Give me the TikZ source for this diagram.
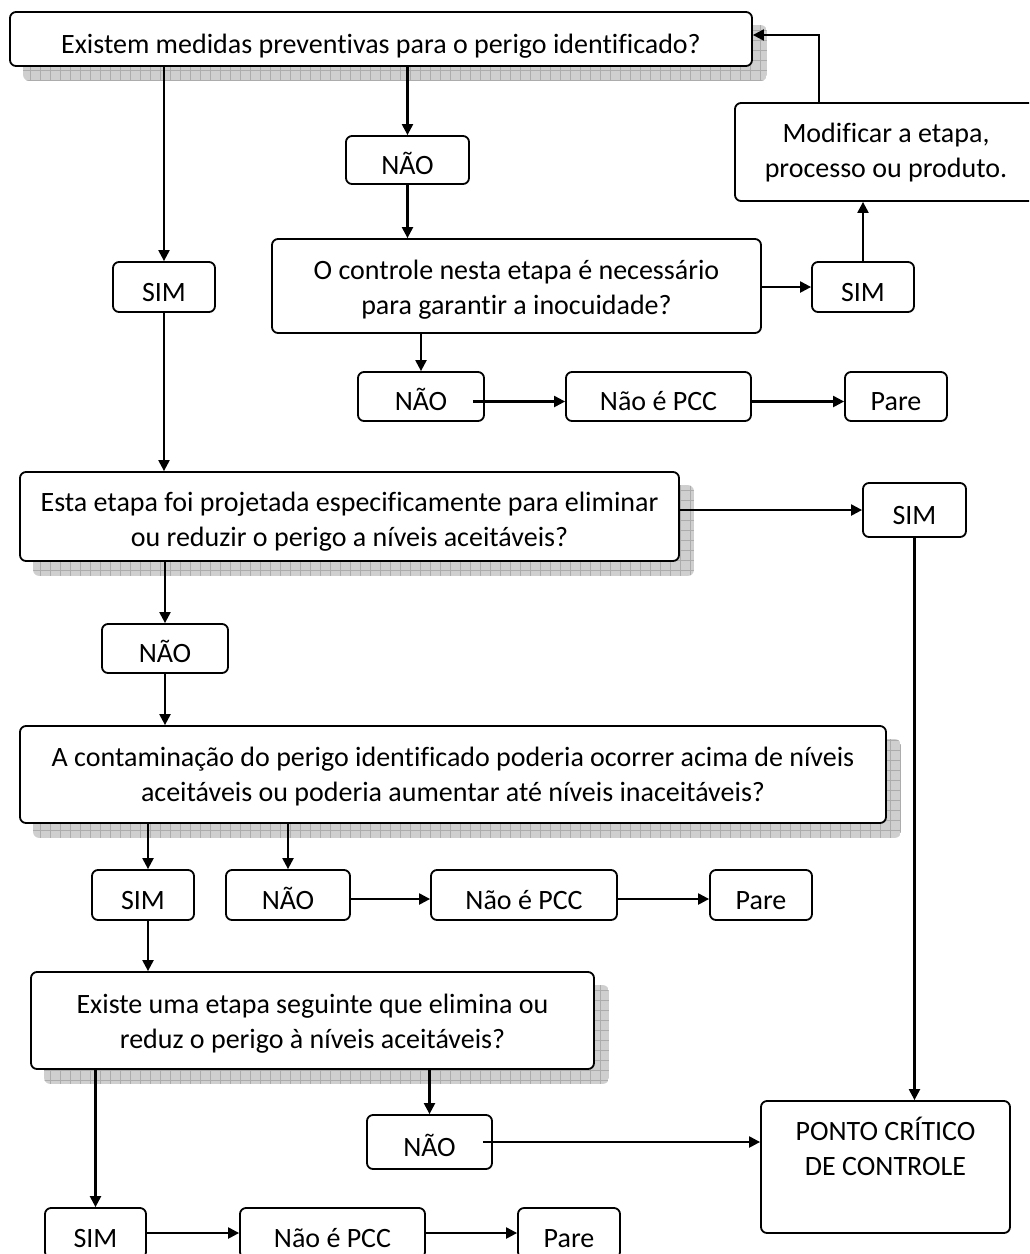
\documentclass[tikz,border=0pt]{standalone}
\usepackage{fontspec}
\setmainfont{Carlito}[Ligatures=NoCommon]
\usetikzlibrary{arrows.meta,backgrounds,positioning}
\tikzset{
  box/.style={draw=black, line width=1.8pt, rounded corners=6pt, fill=white,
    align=center, inner sep=0pt, font=\fontsize{28}{34.5}\selectfont},
  one/.style={text height=28pt, text depth=0pt},
  conn/.style={line width=2.2pt, -{Triangle[length=11pt,width=11pt]}},
  shadowfill/.style={fill=gray!38},
  shadowgrid/.style={draw=gray!65, line width=0.5pt}
}
\newcommand\twolines[3]{\raisebox{#1}[0pt][0pt]{\begin{tabular}{@{}c@{}}#2\\#3\end{tabular}}}
\newcommand\dropshadow[1]{%
  \begin{scope}[on background layer]
    \begin{scope}
      \clip[rounded corners=6pt] ([shift={(14pt,-14pt)}]#1.north west) rectangle ([shift={(14pt,-14pt)}]#1.south east);
      \fill[shadowfill] ([shift={(14pt,-14pt)}]#1.north west) rectangle ([shift={(14pt,-14pt)}]#1.south east);
      \draw[shadowgrid, step=10pt] ([shift={(14pt,-14pt)}]#1.north west) grid ([shift={(14pt,-14pt)}]#1.south east);
    \end{scope}
  \end{scope}}
\begin{document}
\begin{tikzpicture}[x=1pt, y=-1pt]
\useasboundingbox (0,0) rectangle (1029,1254);
\clip (0,0) rectangle (1029,1254);

% nodes
\node[box, one, minimum width=742pt, minimum height=54pt] (b1) at (381,39) {Existem medidas preventivas para o perigo identificado?};
\node[box, one, minimum width=123pt, minimum height=48pt] (nao1) at (407.5,160) {NÃO};
\node[box, minimum width=302pt, minimum height=98pt] (mod) at (886,152) {\twolines{-7.5pt}{Modificar a etapa,}{processo ou produto.}};
\node[box, one, minimum width=102pt, minimum height=50pt] (sim1) at (164,287) {SIM};
\node[box, minimum width=489pt, minimum height=94pt] (ctrl) at (516.5,286) {\twolines{-10.5pt}{O controle nesta etapa é necessário}{para garantir a inocuidade?}};
\node[box, one, minimum width=102pt, minimum height=50pt] (sim2) at (863,287) {SIM};
\node[box, one, minimum width=126pt, minimum height=49pt] (nao2) at (421,396.5) {NÃO};
\node[box, one, minimum width=185pt, minimum height=49pt] (npcc1) at (658.5,396.5) {Não é PCC};
\node[box, one, minimum width=102pt, minimum height=49pt] (pare1) at (896,396.5) {Pare};
\node[box, minimum width=659pt, minimum height=89pt] (esta) at (349.5,516.5) {\twolines{-12pt}{Esta etapa foi projetada especificamente para eliminar}{ou reduzir o perigo a níveis aceitáveis?}};
\node[box, one, minimum width=103pt, minimum height=54pt] (sim3) at (914.5,510) {SIM};
\node[box, one, minimum width=126pt, minimum height=49pt] (nao3) at (165,648.5) {NÃO};
\node[box, minimum width=866pt, minimum height=97pt] (cont) at (453,774.5) {\twolines{-9pt}{A contaminação do perigo identificado poderia ocorrer acima de níveis}{aceitáveis ou poderia aumentar até níveis inaceitáveis?}};
\node[box, one, minimum width=102pt, minimum height=50pt] (sim4) at (143,895) {SIM};
\node[box, one, minimum width=124pt, minimum height=50pt] (nao4) at (288,895) {NÃO};
\node[box, one, minimum width=186pt, minimum height=50pt] (npcc2) at (524,895) {Não é PCC};
\node[box, one, minimum width=102pt, minimum height=50pt] (pare2) at (761,895) {Pare};
\node[box, minimum width=563pt, minimum height=97pt] (existe) at (312.5,1020.5) {\twolines{-10pt}{Existe uma etapa seguinte que elimina ou}{reduz o perigo à níveis aceitáveis?}};
\node[box, one, minimum width=125pt, minimum height=54pt] (nao5) at (429.5,1142) {NÃO};
\node[box, minimum width=249pt, minimum height=132pt] (ponto) at (885.5,1167) {\twolines{9.5pt}{PONTO CRÍTICO}{DE CONTROLE}};
\node[box, one, minimum width=101pt, minimum height=50pt] (sim5) at (95.5,1233) {SIM};
\node[box, one, minimum width=185pt, minimum height=50pt] (npcc3) at (332.5,1233) {Não é PCC};
\node[box, one, minimum width=102pt, minimum height=50pt] (pare3) at (569,1233) {Pare};

% shadows
\dropshadow{b1}
\dropshadow{esta}
\dropshadow{cont}
\dropshadow{existe}

% connectors
\coordinate (fbx) at (819,0);
\draw[conn] (sim1.north |- b1.south) -- (sim1.north);
\draw[conn] (nao1.north |- b1.south) -- (nao1.north);
\draw[conn] (nao1.south) -- (nao1.south |- ctrl.north);
\draw[conn] (sim2.west -| ctrl.east) -- (sim2.west);
\draw[conn] (sim2.north) -- (sim2.north |- mod.south);
\draw[conn] (mod.north -| fbx) |- ([yshift=4pt]b1.east);
\draw[conn] (nao2.north |- ctrl.south) -- (nao2.north);
\draw[conn] ([shift={(-12pt,-5pt)}]nao2.east) -- ([yshift=-5pt]npcc1.west);
\draw[conn] ([yshift=-5pt]npcc1.east) -- ([yshift=-5pt]pare1.west);
\draw[conn] (sim1.south) -- (sim1.south |- esta.north);
\draw[conn] (sim3.west -| esta.east) -- (sim3.west);
\draw[conn] (nao3.north |- esta.south) -- (nao3.north);
\draw[conn] (nao3.south) -- (nao3.south |- cont.north);
\draw[conn] (sim3.south) -- (sim3.south |- ponto.north);
\draw[conn] ([xshift=5pt]sim4.north |- cont.south) -- ([xshift=5pt]sim4.north);
\draw[conn] (nao4.north |- cont.south) -- (nao4.north);
\draw[conn] ([yshift=-4pt]nao4.east) -- ([yshift=-4pt]npcc2.west);
\draw[conn] ([yshift=-4pt]npcc2.east) -- ([yshift=-4pt]pare2.west);
\draw[conn] ([xshift=5pt]sim4.south) -- ([xshift=5pt]sim4.south |- existe.north);
\draw[conn] (sim5.north |- existe.south) -- (sim5.north);
\draw[conn] (nao5.north |- existe.south) -- (nao5.north);
\draw[conn] ([xshift=-10pt]nao5.east) -- (nao5.east -| ponto.west);
\draw[conn] (sim5.east) -- (npcc3.west);
\draw[conn] (npcc3.east) -- (pare3.west);
\end{tikzpicture}
\end{document}
